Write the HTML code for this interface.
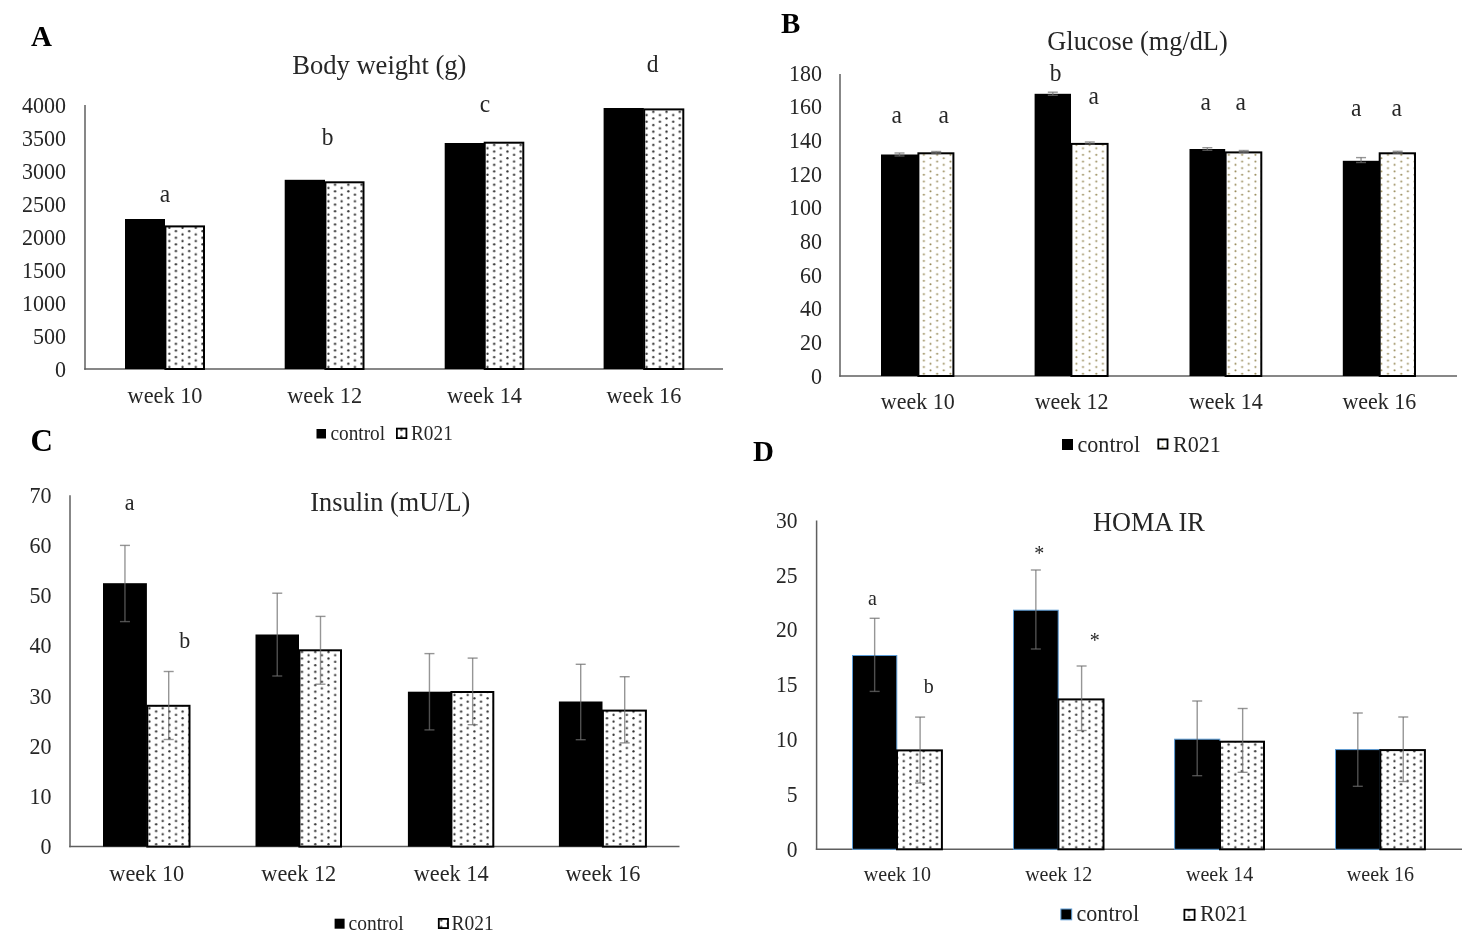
<!DOCTYPE html>
<html><head><meta charset="utf-8"><title>Figure</title>
<style>html,body{margin:0;padding:0;background:#fff;}svg{display:block;filter:blur(0.45px);}</style></head>
<body><svg width="1472" height="944" viewBox="0 0 1472 944" font-family='"Liberation Serif", serif'>
<rect width="1472" height="944" fill="#fff"/>
<defs><pattern id="dotsA" patternUnits="userSpaceOnUse" width="13.260" height="6.630" patternTransform="translate(165.99,226.14)"><rect width="13.260" height="6.630" fill="#fff"/><circle cx="3.315" cy="1.657" r="1.12" fill="#303030"/><circle cx="9.945" cy="4.973" r="1.12" fill="#303030"/></pattern><pattern id="dotsB" patternUnits="userSpaceOnUse" width="13.260" height="6.630" patternTransform="translate(920.58,153.24)"><rect width="13.260" height="6.630" fill="#fff"/><circle cx="3.315" cy="1.657" r="1.0" fill="#958755"/><circle cx="9.945" cy="4.973" r="1.0" fill="#958755"/></pattern><pattern id="dotsC" patternUnits="userSpaceOnUse" width="13.260" height="6.630" patternTransform="translate(146.19,759.64)"><rect width="13.260" height="6.630" fill="#fff"/><circle cx="3.315" cy="1.657" r="1.12" fill="#303030"/><circle cx="9.945" cy="4.973" r="1.12" fill="#303030"/></pattern><pattern id="dotsD" patternUnits="userSpaceOnUse" width="13.260" height="6.630" patternTransform="translate(900.48,752.84)"><rect width="13.260" height="6.630" fill="#fff"/><circle cx="3.315" cy="1.657" r="1.12" fill="#303030"/><circle cx="9.945" cy="4.973" r="1.12" fill="#303030"/></pattern></defs>
<line x1="85.00" y1="105.00" x2="85.00" y2="369.75" stroke="#5f5f5f" stroke-width="1.5"/>
<line x1="84.25" y1="369.00" x2="723.00" y2="369.00" stroke="#5f5f5f" stroke-width="1.5"/>
<text transform="translate(66.00 376.60) scale(1 1.05)" font-size="22" text-anchor="end" fill="#262626">0</text>
<text transform="translate(66.00 343.60) scale(1 1.05)" font-size="22" text-anchor="end" fill="#262626">500</text>
<text transform="translate(66.00 310.60) scale(1 1.05)" font-size="22" text-anchor="end" fill="#262626">1000</text>
<text transform="translate(66.00 277.60) scale(1 1.05)" font-size="22" text-anchor="end" fill="#262626">1500</text>
<text transform="translate(66.00 244.60) scale(1 1.05)" font-size="22" text-anchor="end" fill="#262626">2000</text>
<text transform="translate(66.00 211.60) scale(1 1.05)" font-size="22" text-anchor="end" fill="#262626">2500</text>
<text transform="translate(66.00 178.60) scale(1 1.05)" font-size="22" text-anchor="end" fill="#262626">3000</text>
<text transform="translate(66.00 145.60) scale(1 1.05)" font-size="22" text-anchor="end" fill="#262626">3500</text>
<text transform="translate(66.00 112.60) scale(1 1.05)" font-size="22" text-anchor="end" fill="#262626">4000</text>
<rect x="125.00" y="219.00" width="40.00" height="150.00" fill="#000"/>
<rect x="165.40" y="226.40" width="38.60" height="142.60" fill="url(#dotsA)" stroke="#000" stroke-width="2"/>
<text transform="translate(165.00 403.00) scale(1 1.05)" font-size="22.3" text-anchor="middle" fill="#262626">week 10</text>
<rect x="284.70" y="179.80" width="40.30" height="189.20" fill="#000"/>
<rect x="325.40" y="182.30" width="38.10" height="186.70" fill="url(#dotsA)" stroke="#000" stroke-width="2"/>
<text transform="translate(324.60 403.00) scale(1 1.05)" font-size="22.3" text-anchor="middle" fill="#262626">week 12</text>
<rect x="444.70" y="143.00" width="39.60" height="226.00" fill="#000"/>
<rect x="484.70" y="142.70" width="38.60" height="226.30" fill="url(#dotsA)" stroke="#000" stroke-width="2"/>
<text transform="translate(484.50 403.00) scale(1 1.05)" font-size="22.3" text-anchor="middle" fill="#262626">week 14</text>
<rect x="603.60" y="108.00" width="40.20" height="261.00" fill="#000"/>
<rect x="644.20" y="109.40" width="39.10" height="259.60" fill="url(#dotsA)" stroke="#000" stroke-width="2"/>
<text transform="translate(643.95 403.00) scale(1 1.05)" font-size="22.3" text-anchor="middle" fill="#262626">week 16</text>
<text transform="translate(165.00 201.50) scale(1 1.05)" font-size="23.5" text-anchor="middle" fill="#262626">a</text>
<text transform="translate(327.50 145.30) scale(1 1.05)" font-size="23.5" text-anchor="middle" fill="#262626">b</text>
<text transform="translate(485.00 112.30) scale(1 1.05)" font-size="23.5" text-anchor="middle" fill="#262626">c</text>
<text transform="translate(652.50 72.30) scale(1 1.05)" font-size="23.5" text-anchor="middle" fill="#262626">d</text>
<text transform="translate(379.30 74.00) scale(1 1.05)" font-size="26.6" text-anchor="middle" fill="#262626">Body weight (g)</text>
<text transform="translate(31.00 46.00) scale(1 1.0)" font-size="29" text-anchor="start" font-weight="bold" fill="#000">A</text>
<rect x="316.50" y="429.00" width="9.50" height="9.50" fill="#000"/>
<text transform="translate(330.50 439.80) scale(1 1.05)" font-size="19.3" text-anchor="start" fill="#262626">control</text>
<rect x="396.90" y="428.60" width="9.50" height="9.50" fill="url(#dotsA)" stroke="#000" stroke-width="1.8"/>
<text transform="translate(411.00 439.80) scale(1 1.05)" font-size="19.3" text-anchor="start" fill="#262626">R021</text>
<line x1="840.00" y1="74.00" x2="840.00" y2="376.75" stroke="#5f5f5f" stroke-width="1.5"/>
<line x1="839.25" y1="376.00" x2="1457.00" y2="376.00" stroke="#5f5f5f" stroke-width="1.5"/>
<text transform="translate(822.00 383.60) scale(1 1.05)" font-size="22" text-anchor="end" fill="#262626">0</text>
<text transform="translate(822.00 349.93) scale(1 1.05)" font-size="22" text-anchor="end" fill="#262626">20</text>
<text transform="translate(822.00 316.27) scale(1 1.05)" font-size="22" text-anchor="end" fill="#262626">40</text>
<text transform="translate(822.00 282.60) scale(1 1.05)" font-size="22" text-anchor="end" fill="#262626">60</text>
<text transform="translate(822.00 248.93) scale(1 1.05)" font-size="22" text-anchor="end" fill="#262626">80</text>
<text transform="translate(822.00 215.27) scale(1 1.05)" font-size="22" text-anchor="end" fill="#262626">100</text>
<text transform="translate(822.00 181.60) scale(1 1.05)" font-size="22" text-anchor="end" fill="#262626">120</text>
<text transform="translate(822.00 147.93) scale(1 1.05)" font-size="22" text-anchor="end" fill="#262626">140</text>
<text transform="translate(822.00 114.27) scale(1 1.05)" font-size="22" text-anchor="end" fill="#262626">160</text>
<text transform="translate(822.00 80.60) scale(1 1.05)" font-size="22" text-anchor="end" fill="#262626">180</text>
<rect x="881.00" y="154.50" width="37.00" height="221.50" fill="#000"/>
<rect x="918.40" y="153.30" width="35.00" height="222.70" fill="url(#dotsB)" stroke="#000" stroke-width="2"/>
<line x1="899.50" y1="153.00" x2="899.50" y2="156.00" stroke="#6e6e6e" stroke-width="1.4" stroke-opacity="0.72"/>
<line x1="894.50" y1="153.00" x2="904.50" y2="153.00" stroke="#6e6e6e" stroke-width="1.4" stroke-opacity="0.72"/>
<line x1="894.50" y1="156.00" x2="904.50" y2="156.00" stroke="#6e6e6e" stroke-width="1.4" stroke-opacity="0.72"/>
<line x1="936.20" y1="151.50" x2="936.20" y2="153.50" stroke="#6e6e6e" stroke-width="1.4" stroke-opacity="0.72"/>
<line x1="931.20" y1="151.50" x2="941.20" y2="151.50" stroke="#6e6e6e" stroke-width="1.4" stroke-opacity="0.72"/>
<line x1="931.20" y1="153.50" x2="941.20" y2="153.50" stroke="#6e6e6e" stroke-width="1.4" stroke-opacity="0.72"/>
<text transform="translate(917.70 409.00) scale(1 1.05)" font-size="22" text-anchor="middle" fill="#262626">week 10</text>
<rect x="1034.60" y="93.80" width="36.40" height="282.20" fill="#000"/>
<rect x="1071.40" y="143.90" width="36.20" height="232.10" fill="url(#dotsB)" stroke="#000" stroke-width="2"/>
<line x1="1052.80" y1="92.20" x2="1052.80" y2="95.30" stroke="#6e6e6e" stroke-width="1.4" stroke-opacity="0.72"/>
<line x1="1047.80" y1="92.20" x2="1057.80" y2="92.20" stroke="#6e6e6e" stroke-width="1.4" stroke-opacity="0.72"/>
<line x1="1047.80" y1="95.30" x2="1057.80" y2="95.30" stroke="#6e6e6e" stroke-width="1.4" stroke-opacity="0.72"/>
<line x1="1089.80" y1="142.00" x2="1089.80" y2="144.00" stroke="#6e6e6e" stroke-width="1.4" stroke-opacity="0.72"/>
<line x1="1084.80" y1="142.00" x2="1094.80" y2="142.00" stroke="#6e6e6e" stroke-width="1.4" stroke-opacity="0.72"/>
<line x1="1084.80" y1="144.00" x2="1094.80" y2="144.00" stroke="#6e6e6e" stroke-width="1.4" stroke-opacity="0.72"/>
<text transform="translate(1071.60 409.00) scale(1 1.05)" font-size="22" text-anchor="middle" fill="#262626">week 12</text>
<rect x="1189.50" y="149.00" width="35.70" height="227.00" fill="#000"/>
<rect x="1225.60" y="152.40" width="35.70" height="223.60" fill="url(#dotsB)" stroke="#000" stroke-width="2"/>
<line x1="1207.35" y1="147.70" x2="1207.35" y2="150.30" stroke="#6e6e6e" stroke-width="1.4" stroke-opacity="0.72"/>
<line x1="1202.35" y1="147.70" x2="1212.35" y2="147.70" stroke="#6e6e6e" stroke-width="1.4" stroke-opacity="0.72"/>
<line x1="1202.35" y1="150.30" x2="1212.35" y2="150.30" stroke="#6e6e6e" stroke-width="1.4" stroke-opacity="0.72"/>
<line x1="1243.75" y1="150.50" x2="1243.75" y2="152.50" stroke="#6e6e6e" stroke-width="1.4" stroke-opacity="0.72"/>
<line x1="1238.75" y1="150.50" x2="1248.75" y2="150.50" stroke="#6e6e6e" stroke-width="1.4" stroke-opacity="0.72"/>
<line x1="1238.75" y1="152.50" x2="1248.75" y2="152.50" stroke="#6e6e6e" stroke-width="1.4" stroke-opacity="0.72"/>
<text transform="translate(1225.90 409.00) scale(1 1.05)" font-size="22" text-anchor="middle" fill="#262626">week 14</text>
<rect x="1342.80" y="160.80" width="36.50" height="215.20" fill="#000"/>
<rect x="1379.70" y="153.30" width="35.30" height="222.70" fill="url(#dotsB)" stroke="#000" stroke-width="2"/>
<line x1="1361.05" y1="157.60" x2="1361.05" y2="162.50" stroke="#6e6e6e" stroke-width="1.4" stroke-opacity="0.72"/>
<line x1="1356.05" y1="157.60" x2="1366.05" y2="157.60" stroke="#6e6e6e" stroke-width="1.4" stroke-opacity="0.72"/>
<line x1="1356.05" y1="162.50" x2="1366.05" y2="162.50" stroke="#6e6e6e" stroke-width="1.4" stroke-opacity="0.72"/>
<line x1="1397.65" y1="151.30" x2="1397.65" y2="153.30" stroke="#6e6e6e" stroke-width="1.4" stroke-opacity="0.72"/>
<line x1="1392.65" y1="151.30" x2="1402.65" y2="151.30" stroke="#6e6e6e" stroke-width="1.4" stroke-opacity="0.72"/>
<line x1="1392.65" y1="153.30" x2="1402.65" y2="153.30" stroke="#6e6e6e" stroke-width="1.4" stroke-opacity="0.72"/>
<text transform="translate(1379.40 409.00) scale(1 1.05)" font-size="22" text-anchor="middle" fill="#262626">week 16</text>
<text transform="translate(896.60 123.30) scale(1 1.05)" font-size="23.5" text-anchor="middle" fill="#262626">a</text>
<text transform="translate(943.60 123.30) scale(1 1.05)" font-size="23.5" text-anchor="middle" fill="#262626">a</text>
<text transform="translate(1055.50 80.70) scale(1 1.05)" font-size="23.5" text-anchor="middle" fill="#262626">b</text>
<text transform="translate(1093.70 104.00) scale(1 1.05)" font-size="23.5" text-anchor="middle" fill="#262626">a</text>
<text transform="translate(1205.60 109.70) scale(1 1.05)" font-size="23.5" text-anchor="middle" fill="#262626">a</text>
<text transform="translate(1240.80 109.70) scale(1 1.05)" font-size="23.5" text-anchor="middle" fill="#262626">a</text>
<text transform="translate(1356.30 116.00) scale(1 1.05)" font-size="23.5" text-anchor="middle" fill="#262626">a</text>
<text transform="translate(1396.70 116.00) scale(1 1.05)" font-size="23.5" text-anchor="middle" fill="#262626">a</text>
<text transform="translate(1137.50 50.20) scale(1 1.05)" font-size="26.3" text-anchor="middle" fill="#262626">Glucose (mg/dL)</text>
<text transform="translate(781.00 33.30) scale(1 1.0)" font-size="29" text-anchor="start" font-weight="bold" fill="#000">B</text>
<rect x="1062.00" y="439.00" width="11.00" height="11.00" fill="#000"/>
<text transform="translate(1077.50 451.70) scale(1 1.05)" font-size="22.1" text-anchor="start" fill="#262626">control</text>
<rect x="1158.30" y="439.40" width="9.20" height="9.20" fill="url(#dotsB)" stroke="#000" stroke-width="1.8"/>
<text transform="translate(1173.00 451.70) scale(1 1.05)" font-size="22.1" text-anchor="start" fill="#262626">R021</text>
<line x1="70.00" y1="495.20" x2="70.00" y2="847.35" stroke="#5f5f5f" stroke-width="1.5"/>
<line x1="69.25" y1="846.60" x2="679.50" y2="846.60" stroke="#5f5f5f" stroke-width="1.5"/>
<text transform="translate(51.50 854.10) scale(1 1.05)" font-size="22" text-anchor="end" fill="#262626">0</text>
<text transform="translate(51.50 803.90) scale(1 1.05)" font-size="22" text-anchor="end" fill="#262626">10</text>
<text transform="translate(51.50 753.70) scale(1 1.05)" font-size="22" text-anchor="end" fill="#262626">20</text>
<text transform="translate(51.50 703.50) scale(1 1.05)" font-size="22" text-anchor="end" fill="#262626">30</text>
<text transform="translate(51.50 653.30) scale(1 1.05)" font-size="22" text-anchor="end" fill="#262626">40</text>
<text transform="translate(51.50 603.10) scale(1 1.05)" font-size="22" text-anchor="end" fill="#262626">50</text>
<text transform="translate(51.50 552.90) scale(1 1.05)" font-size="22" text-anchor="end" fill="#262626">60</text>
<text transform="translate(51.50 502.70) scale(1 1.05)" font-size="22" text-anchor="end" fill="#262626">70</text>
<rect x="103.00" y="583.20" width="43.90" height="263.40" fill="#000"/>
<rect x="147.30" y="705.80" width="42.20" height="140.80" fill="url(#dotsC)" stroke="#000" stroke-width="2"/>
<line x1="124.95" y1="545.40" x2="124.95" y2="621.60" stroke="#6e6e6e" stroke-width="1.4" stroke-opacity="0.72"/>
<line x1="119.95" y1="545.40" x2="129.95" y2="545.40" stroke="#6e6e6e" stroke-width="1.4" stroke-opacity="0.72"/>
<line x1="119.95" y1="621.60" x2="129.95" y2="621.60" stroke="#6e6e6e" stroke-width="1.4" stroke-opacity="0.72"/>
<line x1="168.70" y1="671.50" x2="168.70" y2="739.50" stroke="#6e6e6e" stroke-width="1.4" stroke-opacity="0.72"/>
<line x1="163.70" y1="671.50" x2="173.70" y2="671.50" stroke="#6e6e6e" stroke-width="1.4" stroke-opacity="0.72"/>
<line x1="163.70" y1="739.50" x2="173.70" y2="739.50" stroke="#6e6e6e" stroke-width="1.4" stroke-opacity="0.72"/>
<text transform="translate(146.75 880.50) scale(1 1.05)" font-size="22.3" text-anchor="middle" fill="#262626">week 10</text>
<rect x="255.50" y="634.50" width="43.50" height="212.10" fill="#000"/>
<rect x="299.40" y="650.30" width="41.60" height="196.30" fill="url(#dotsC)" stroke="#000" stroke-width="2"/>
<line x1="277.25" y1="593.20" x2="277.25" y2="676.00" stroke="#6e6e6e" stroke-width="1.4" stroke-opacity="0.72"/>
<line x1="272.25" y1="593.20" x2="282.25" y2="593.20" stroke="#6e6e6e" stroke-width="1.4" stroke-opacity="0.72"/>
<line x1="272.25" y1="676.00" x2="282.25" y2="676.00" stroke="#6e6e6e" stroke-width="1.4" stroke-opacity="0.72"/>
<line x1="320.50" y1="616.40" x2="320.50" y2="684.20" stroke="#6e6e6e" stroke-width="1.4" stroke-opacity="0.72"/>
<line x1="315.50" y1="616.40" x2="325.50" y2="616.40" stroke="#6e6e6e" stroke-width="1.4" stroke-opacity="0.72"/>
<line x1="315.50" y1="684.20" x2="325.50" y2="684.20" stroke="#6e6e6e" stroke-width="1.4" stroke-opacity="0.72"/>
<text transform="translate(298.75 880.50) scale(1 1.05)" font-size="22.3" text-anchor="middle" fill="#262626">week 12</text>
<rect x="407.90" y="691.70" width="43.10" height="154.90" fill="#000"/>
<rect x="451.40" y="692.00" width="41.90" height="154.60" fill="url(#dotsC)" stroke="#000" stroke-width="2"/>
<line x1="429.45" y1="653.60" x2="429.45" y2="729.90" stroke="#6e6e6e" stroke-width="1.4" stroke-opacity="0.72"/>
<line x1="424.45" y1="653.60" x2="434.45" y2="653.60" stroke="#6e6e6e" stroke-width="1.4" stroke-opacity="0.72"/>
<line x1="424.45" y1="729.90" x2="434.45" y2="729.90" stroke="#6e6e6e" stroke-width="1.4" stroke-opacity="0.72"/>
<line x1="472.65" y1="658.10" x2="472.65" y2="724.70" stroke="#6e6e6e" stroke-width="1.4" stroke-opacity="0.72"/>
<line x1="467.65" y1="658.10" x2="477.65" y2="658.10" stroke="#6e6e6e" stroke-width="1.4" stroke-opacity="0.72"/>
<line x1="467.65" y1="724.70" x2="477.65" y2="724.70" stroke="#6e6e6e" stroke-width="1.4" stroke-opacity="0.72"/>
<text transform="translate(451.10 880.50) scale(1 1.05)" font-size="22.3" text-anchor="middle" fill="#262626">week 14</text>
<rect x="558.90" y="701.50" width="43.60" height="145.10" fill="#000"/>
<rect x="602.90" y="710.60" width="43.00" height="136.00" fill="url(#dotsC)" stroke="#000" stroke-width="2"/>
<line x1="580.70" y1="664.30" x2="580.70" y2="739.70" stroke="#6e6e6e" stroke-width="1.4" stroke-opacity="0.72"/>
<line x1="575.70" y1="664.30" x2="585.70" y2="664.30" stroke="#6e6e6e" stroke-width="1.4" stroke-opacity="0.72"/>
<line x1="575.70" y1="739.70" x2="585.70" y2="739.70" stroke="#6e6e6e" stroke-width="1.4" stroke-opacity="0.72"/>
<line x1="624.70" y1="676.70" x2="624.70" y2="742.90" stroke="#6e6e6e" stroke-width="1.4" stroke-opacity="0.72"/>
<line x1="619.70" y1="676.70" x2="629.70" y2="676.70" stroke="#6e6e6e" stroke-width="1.4" stroke-opacity="0.72"/>
<line x1="619.70" y1="742.90" x2="629.70" y2="742.90" stroke="#6e6e6e" stroke-width="1.4" stroke-opacity="0.72"/>
<text transform="translate(602.90 880.50) scale(1 1.05)" font-size="22.3" text-anchor="middle" fill="#262626">week 16</text>
<text transform="translate(129.60 510.20) scale(1 1.05)" font-size="22" text-anchor="middle" fill="#262626">a</text>
<text transform="translate(184.80 647.50) scale(1 1.05)" font-size="22" text-anchor="middle" fill="#262626">b</text>
<text transform="translate(390.30 510.80) scale(1 1.05)" font-size="26.3" text-anchor="middle" fill="#262626">Insulin (mU/L)</text>
<text transform="translate(30.50 451.00) scale(1 1.0)" font-size="31" text-anchor="start" font-weight="bold" fill="#000">C</text>
<rect x="334.60" y="918.70" width="10.00" height="10.00" fill="#000"/>
<text transform="translate(348.50 930.40) scale(1 1.05)" font-size="19.5" text-anchor="start" fill="#262626">control</text>
<rect x="438.80" y="918.90" width="9.20" height="9.20" fill="url(#dotsC)" stroke="#000" stroke-width="1.8"/>
<text transform="translate(451.50 930.40) scale(1 1.05)" font-size="19.5" text-anchor="start" fill="#262626">R021</text>
<line x1="816.60" y1="520.50" x2="816.60" y2="850.05" stroke="#5f5f5f" stroke-width="1.5"/>
<line x1="815.85" y1="849.30" x2="1462.00" y2="849.30" stroke="#5f5f5f" stroke-width="1.5"/>
<text transform="translate(797.50 856.60) scale(1 1.05)" font-size="21.5" text-anchor="end" fill="#262626">0</text>
<text transform="translate(797.50 801.80) scale(1 1.05)" font-size="21.5" text-anchor="end" fill="#262626">5</text>
<text transform="translate(797.50 747.00) scale(1 1.05)" font-size="21.5" text-anchor="end" fill="#262626">10</text>
<text transform="translate(797.50 692.20) scale(1 1.05)" font-size="21.5" text-anchor="end" fill="#262626">15</text>
<text transform="translate(797.50 637.40) scale(1 1.05)" font-size="21.5" text-anchor="end" fill="#262626">20</text>
<text transform="translate(797.50 582.60) scale(1 1.05)" font-size="21.5" text-anchor="end" fill="#262626">25</text>
<text transform="translate(797.50 527.80) scale(1 1.05)" font-size="21.5" text-anchor="end" fill="#262626">30</text>
<rect x="852.50" y="655.50" width="44.30" height="193.80" fill="#000" stroke="#5b9bd5" stroke-width="1"/>
<rect x="897.00" y="750.40" width="44.90" height="98.90" fill="url(#dotsD)" stroke="#000" stroke-width="2"/>
<line x1="874.65" y1="618.30" x2="874.65" y2="691.40" stroke="#6e6e6e" stroke-width="1.4" stroke-opacity="0.72"/>
<line x1="869.65" y1="618.30" x2="879.65" y2="618.30" stroke="#6e6e6e" stroke-width="1.4" stroke-opacity="0.72"/>
<line x1="869.65" y1="691.40" x2="879.65" y2="691.40" stroke="#6e6e6e" stroke-width="1.4" stroke-opacity="0.72"/>
<line x1="920.10" y1="717.10" x2="920.10" y2="783.00" stroke="#6e6e6e" stroke-width="1.4" stroke-opacity="0.72"/>
<line x1="915.10" y1="717.10" x2="925.10" y2="717.10" stroke="#6e6e6e" stroke-width="1.4" stroke-opacity="0.72"/>
<line x1="915.10" y1="783.00" x2="925.10" y2="783.00" stroke="#6e6e6e" stroke-width="1.4" stroke-opacity="0.72"/>
<text transform="translate(897.45 880.80) scale(1 1.05)" font-size="20" text-anchor="middle" fill="#262626">week 10</text>
<rect x="1013.50" y="610.20" width="44.70" height="239.10" fill="#000" stroke="#5b9bd5" stroke-width="1"/>
<rect x="1058.40" y="699.40" width="45.10" height="149.90" fill="url(#dotsD)" stroke="#000" stroke-width="2"/>
<line x1="1035.85" y1="570.00" x2="1035.85" y2="649.00" stroke="#6e6e6e" stroke-width="1.4" stroke-opacity="0.72"/>
<line x1="1030.85" y1="570.00" x2="1040.85" y2="570.00" stroke="#6e6e6e" stroke-width="1.4" stroke-opacity="0.72"/>
<line x1="1030.85" y1="649.00" x2="1040.85" y2="649.00" stroke="#6e6e6e" stroke-width="1.4" stroke-opacity="0.72"/>
<line x1="1081.60" y1="666.00" x2="1081.60" y2="730.50" stroke="#6e6e6e" stroke-width="1.4" stroke-opacity="0.72"/>
<line x1="1076.60" y1="666.00" x2="1086.60" y2="666.00" stroke="#6e6e6e" stroke-width="1.4" stroke-opacity="0.72"/>
<line x1="1076.60" y1="730.50" x2="1086.60" y2="730.50" stroke="#6e6e6e" stroke-width="1.4" stroke-opacity="0.72"/>
<text transform="translate(1058.75 880.80) scale(1 1.05)" font-size="20" text-anchor="middle" fill="#262626">week 12</text>
<rect x="1174.60" y="739.20" width="45.20" height="110.10" fill="#000" stroke="#5b9bd5" stroke-width="1"/>
<rect x="1220.00" y="741.70" width="44.00" height="107.60" fill="url(#dotsD)" stroke="#000" stroke-width="2"/>
<line x1="1197.20" y1="701.00" x2="1197.20" y2="775.70" stroke="#6e6e6e" stroke-width="1.4" stroke-opacity="0.72"/>
<line x1="1192.20" y1="701.00" x2="1202.20" y2="701.00" stroke="#6e6e6e" stroke-width="1.4" stroke-opacity="0.72"/>
<line x1="1192.20" y1="775.70" x2="1202.20" y2="775.70" stroke="#6e6e6e" stroke-width="1.4" stroke-opacity="0.72"/>
<line x1="1242.65" y1="708.50" x2="1242.65" y2="772.30" stroke="#6e6e6e" stroke-width="1.4" stroke-opacity="0.72"/>
<line x1="1237.65" y1="708.50" x2="1247.65" y2="708.50" stroke="#6e6e6e" stroke-width="1.4" stroke-opacity="0.72"/>
<line x1="1237.65" y1="772.30" x2="1247.65" y2="772.30" stroke="#6e6e6e" stroke-width="1.4" stroke-opacity="0.72"/>
<text transform="translate(1219.55 880.80) scale(1 1.05)" font-size="20" text-anchor="middle" fill="#262626">week 14</text>
<rect x="1335.50" y="749.60" width="44.60" height="99.70" fill="#000" stroke="#5b9bd5" stroke-width="1"/>
<rect x="1380.30" y="750.10" width="44.60" height="99.20" fill="url(#dotsD)" stroke="#000" stroke-width="2"/>
<line x1="1357.80" y1="713.00" x2="1357.80" y2="786.30" stroke="#6e6e6e" stroke-width="1.4" stroke-opacity="0.72"/>
<line x1="1352.80" y1="713.00" x2="1362.80" y2="713.00" stroke="#6e6e6e" stroke-width="1.4" stroke-opacity="0.72"/>
<line x1="1352.80" y1="786.30" x2="1362.80" y2="786.30" stroke="#6e6e6e" stroke-width="1.4" stroke-opacity="0.72"/>
<line x1="1403.25" y1="717.00" x2="1403.25" y2="781.50" stroke="#6e6e6e" stroke-width="1.4" stroke-opacity="0.72"/>
<line x1="1398.25" y1="717.00" x2="1408.25" y2="717.00" stroke="#6e6e6e" stroke-width="1.4" stroke-opacity="0.72"/>
<line x1="1398.25" y1="781.50" x2="1408.25" y2="781.50" stroke="#6e6e6e" stroke-width="1.4" stroke-opacity="0.72"/>
<text transform="translate(1380.45 880.80) scale(1 1.05)" font-size="20" text-anchor="middle" fill="#262626">week 16</text>
<text transform="translate(872.50 604.60) scale(1 1.05)" font-size="20" text-anchor="middle" fill="#262626">a</text>
<text transform="translate(928.70 692.80) scale(1 1.05)" font-size="20" text-anchor="middle" fill="#262626">b</text>
<text transform="translate(1039.30 560.00) scale(1 1.05)" font-size="20" text-anchor="middle" fill="#262626">*</text>
<text transform="translate(1094.70 646.50) scale(1 1.05)" font-size="20" text-anchor="middle" fill="#262626">*</text>
<text transform="translate(1148.80 530.70) scale(1 1.05)" font-size="26.3" text-anchor="middle" fill="#262626">HOMA IR</text>
<text transform="translate(753.00 461.30) scale(1 1.0)" font-size="29" text-anchor="start" font-weight="bold" fill="#000">D</text>
<rect x="1060.90" y="909.00" width="10.80" height="10.80" fill="#000" stroke="#5b9bd5" stroke-width="1"/>
<text transform="translate(1076.50 921.40) scale(1 1.05)" font-size="22.1" text-anchor="start" fill="#262626">control</text>
<rect x="1184.40" y="909.70" width="10.20" height="10.20" fill="url(#dotsD)" stroke="#000" stroke-width="1.8"/>
<text transform="translate(1200.00 921.40) scale(1 1.05)" font-size="22.1" text-anchor="start" fill="#262626">R021</text>
</svg></body></html>
